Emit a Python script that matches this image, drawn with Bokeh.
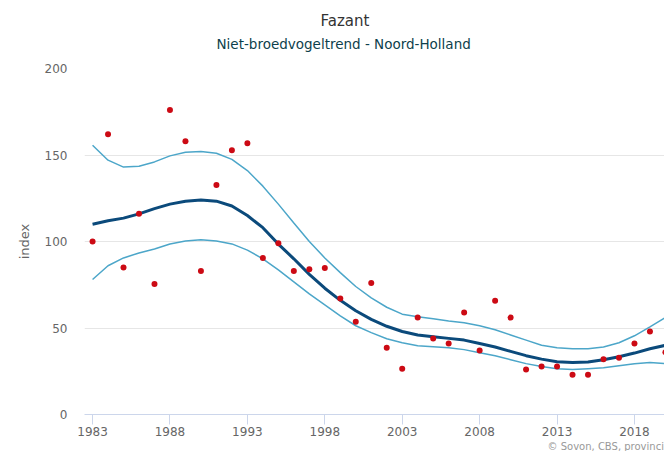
from bokeh.plotting import figure
from bokeh.models import Range1d, Title, FixedTicker, ColumnDataSource
from bokeh.embed import file_html
from bokeh.resources import INLINE

years = list(range(1983, 2021))
observed = [100, 162, 85, 116, 75.5, 176, 158, 83, 132.6, 152.7, 156.8, 90.5, 99, 83, 84,
            84.7, 67, 53.6, 76, 38.6, 26.5, 56, 44, 41, 59, 37, 65.7, 56, 26, 27.7, 27.7,
            23, 23, 32, 32.8, 41, 48, 36]
trend = [110, 112, 113.5, 116, 119, 121.6, 123.3, 124, 123.3, 120.5, 115, 108, 98.5, 90,
         81, 73, 66, 60, 55, 51, 48, 46, 45, 44, 43, 41, 39, 36.5, 34, 32, 30.5, 30, 30.3,
         31.7, 33.4, 35.5, 38, 40]
upper = [155.6, 147, 143, 143.5, 146, 149.5, 151.6, 152, 151, 147.5, 141, 132, 121.6,
         110.7, 100, 90.5, 82, 74, 67.4, 62, 58, 56.5, 55.3, 54, 53, 51.3, 49, 46, 43, 40,
         38.6, 38, 38, 39, 41.5, 45.5, 50.7, 56]
lower = [78, 86, 90.5, 93.4, 95.7, 98.6, 100.3, 101, 100.3, 98.6, 95, 90, 83.6, 76.7, 69.7,
         63.4, 57, 51.3, 47.3, 43.8, 41.5, 39.8, 39.2, 38.6, 37.5, 35.7, 34, 31.7, 29.4,
         27.7, 26.5, 26, 26.5, 27, 28.2, 29.4, 30, 29.4]
x_ticks = [1983, 1988, 1993, 1998, 2003, 2008, 2013, 2018]
y_ticks = [0, 50, 100, 150, 200]

title_text = "Fazant"
subtitle_text = "Niet-broedvogeltrend - Noord-Holland"
credit_text = "\u00a9 Sovon, CBS, provincies"

FONT = "DejaVu Sans"

src = ColumnDataSource(dict(year=years, obs=observed, trend=trend, upper=upper, lower=lower))

p = figure(width=664, height=451, output_backend="svg", toolbar_location=None,
           x_range=Range1d(1982.48, 2019.94), y_range=Range1d(0, 200),
           min_border_left=84, min_border_right=0, min_border_top=68, min_border_bottom=36,
           title=title_text)
p.outline_line_color = None
p.background_fill_color = "white"
p.border_fill_color = "white"

p.title.text_font = FONT
p.title.text_font_size = "15px"
p.title.text_font_style = "normal"
p.title.text_color = "#333333"
p.title.align = "left"
p.title.offset = 236
p.title.standoff = 5

spacer = Title(text=" ", text_font_size="1px", standoff=13)
p.add_layout(spacer, "above")

subtitle = Title(text=subtitle_text, text_font=FONT, text_font_size="13.5px",
                 text_font_style="normal", text_color="#0e3f4c", align="left",
                 offset=132, standoff=2)
p.add_layout(subtitle, "above")

credit = Title(text=credit_text, text_font=FONT, text_font_size="10px",
               text_font_style="normal", text_color="#999999", align="left",
               offset=463, standoff=0)
p.add_layout(credit, "below")

p.xgrid.grid_line_color = None
p.ygrid.grid_line_color = "#e6e6e6"
p.ygrid.grid_line_width = 1

p.xaxis.ticker = FixedTicker(ticks=x_ticks)
p.yaxis.ticker = FixedTicker(ticks=y_ticks)

p.xaxis.axis_line_color = "#ccd6eb"
p.xaxis.major_tick_line_color = "#ccd6eb"
p.xaxis.major_tick_out = 10
p.xaxis.major_tick_in = 0
p.xaxis.minor_tick_line_color = None
p.xaxis.major_label_standoff = 2
p.xaxis.major_label_text_font = FONT
p.xaxis.major_label_text_font_size = "12px"
p.xaxis.major_label_text_color = "#666666"

p.yaxis.axis_line_color = None
p.yaxis.major_tick_line_color = None
p.yaxis.minor_tick_line_color = None
p.yaxis.major_tick_out = 0
p.yaxis.major_tick_in = 0
p.yaxis.major_label_standoff = 17
p.yaxis.major_label_text_font = FONT
p.yaxis.major_label_text_font_size = "12px"
p.yaxis.major_label_text_color = "#666666"
p.yaxis.axis_label = "index"
p.yaxis.axis_label_text_font = FONT
p.yaxis.axis_label_text_font_size = "13px"
p.yaxis.axis_label_text_font_style = "normal"
p.yaxis.axis_label_text_color = "#666666"
p.yaxis.axis_label_standoff = 10

p.line("year", "upper", source=src, line_color="#4ca6c9", line_width=1.5)
p.line("year", "lower", source=src, line_color="#4ca6c9", line_width=1.5)
p.line("year", "trend", source=src, line_color="#0b4a7b", line_width=3)
p.scatter("year", "obs", source=src, size=6, fill_color="#cc0a14", line_color=None)

open("out.html", "w").write(file_html(p, INLINE))
